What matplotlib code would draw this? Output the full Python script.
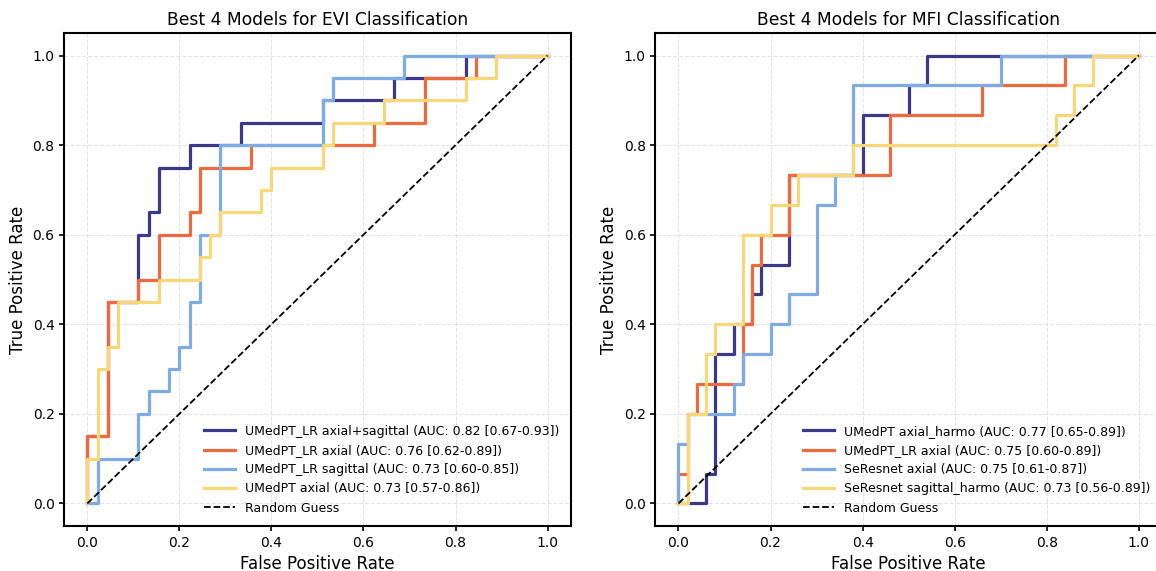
import matplotlib
matplotlib.use("Agg")
import matplotlib.pyplot as plt
import numpy as np

# colours of the four models (same order in both panels)
colors = ['#3b3889', '#ec6a3d', '#7fabe3', '#f9d776']

# EVI panel: 45 negatives, 20 positives (counts at each ROC vertex)
evi_neg = 45
evi_pos = 20
evi_labels = ['UMedPT_LR axial+sagittal (AUC: 0.82 [0.67-0.93])',
              'UMedPT_LR axial (AUC: 0.76 [0.62-0.89])',
              'UMedPT_LR sagittal (AUC: 0.73 [0.60-0.85])',
              'UMedPT axial (AUC: 0.73 [0.57-0.86])']
evi_fp = [
    [0, 0, 2, 2, 5, 5, 6, 6, 7, 7, 10, 10, 15, 15, 23, 23, 30, 30, 37, 37, 45],
    [0, 0, 2, 2, 5, 5, 7, 7, 10, 10, 11, 11, 16, 16, 28, 28, 33, 33, 38, 38, 45],
    [0, 1, 1, 5, 5, 6, 6, 8, 8, 9, 9, 10, 10, 11, 11, 13, 13, 23, 23, 24, 24, 31, 31, 45],
    [0, 0, 1, 1, 2, 2, 3, 3, 7, 7, 11, 11, 12, 12, 13, 13, 17, 17, 18, 18, 23, 23, 24, 24, 29, 29, 37, 37, 40, 40, 45],
]
evi_tp = [
    [0, 3, 3, 9, 9, 12, 12, 13, 13, 15, 15, 16, 16, 17, 17, 18, 18, 19, 19, 20, 20],
    [0, 3, 3, 9, 9, 10, 10, 12, 12, 13, 13, 15, 15, 16, 16, 17, 17, 19, 19, 20, 20],
    [0, 0, 2, 2, 4, 4, 5, 5, 6, 6, 7, 7, 9, 9, 12, 12, 16, 16, 18, 18, 19, 19, 20, 20],
    [0, 2, 2, 6, 6, 7, 7, 9, 9, 10, 10, 11, 11, 12, 12, 13, 13, 14, 14, 15, 15, 16, 16, 17, 17, 18, 18, 19, 19, 20, 20],
]

# MFI panel: 50 negatives, 15 positives
mfi_neg = 50
mfi_pos = 15
mfi_labels = ['UMedPT axial_harmo (AUC: 0.77 [0.65-0.89])',
              'UMedPT_LR axial (AUC: 0.75 [0.60-0.89])',
              'SeResnet axial (AUC: 0.75 [0.61-0.87])',
              'SeResnet sagittal_harmo (AUC: 0.73 [0.56-0.89])']
mfi_fp = [
    [0, 3, 3, 4, 4, 6, 6, 8, 8, 9, 9, 12, 12, 20, 20, 25, 25, 27, 27, 50],
    [0, 0, 1, 1, 2, 2, 7, 7, 8, 8, 9, 9, 12, 12, 23, 23, 33, 33, 42, 42, 50],
    [0, 0, 1, 1, 6, 6, 7, 7, 10, 10, 12, 12, 15, 15, 17, 17, 19, 19, 35, 35, 50],
    [0, 1, 1, 3, 3, 4, 4, 7, 7, 10, 10, 13, 13, 19, 19, 41, 41, 43, 43, 45, 45, 50],
]
mfi_tp = [
    [0, 0, 1, 1, 5, 5, 6, 6, 7, 7, 8, 8, 11, 11, 13, 13, 14, 14, 15, 15],
    [0, 1, 1, 3, 3, 4, 4, 6, 6, 8, 8, 9, 9, 11, 11, 13, 13, 14, 14, 15, 15],
    [0, 2, 2, 3, 3, 4, 4, 5, 5, 6, 6, 7, 7, 10, 10, 11, 11, 14, 14, 15, 15],
    [0, 0, 3, 3, 5, 5, 6, 6, 9, 9, 10, 10, 11, 11, 12, 12, 13, 13, 14, 14, 15, 15],
]

titles = ['Best 4 Models for EVI Classification', 'Best 4 Models for MFI Classification']
ticks = [0.0, 0.2, 0.4, 0.6, 0.8, 1.0]

fig = plt.figure(figsize=(11.56, 5.71), dpi=100)
ax1 = fig.add_axes([0.0556, 0.079, 0.438, 0.863])
ax2 = fig.add_axes([0.567, 0.079, 0.438, 0.863])

panels = [(ax1, evi_fp, evi_tp, evi_neg, evi_pos, evi_labels),
          (ax2, mfi_fp, mfi_tp, mfi_neg, mfi_pos, mfi_labels)]

for i, (ax, fps, tps, nneg, npos, labels) in enumerate(panels):
    for fp, tp, c, lab in zip(fps, tps, colors, labels):
        ax.plot(np.array(fp) / nneg, np.array(tp) / npos, color=c, lw=2.3, label=lab)
    ax.plot([0, 1], [0, 1], 'k--', lw=1.3, label='Random Guess')
    ax.set_xlim(-0.05, 1.05)
    ax.set_ylim(-0.05, 1.05)
    ax.set_xticks(ticks)
    ax.set_yticks(ticks)
    ax.tick_params(labelsize=10, width=1.2)
    ax.grid(True, linestyle='--', color='#d9d9d9', alpha=0.7)
    for s in ax.spines.values():
        s.set_linewidth(1.5)
    ax.set_title(titles[i], fontsize=12.3)
    ax.set_xlabel('False Positive Rate', fontsize=12)
    ax.set_ylabel('True Positive Rate', fontsize=12)
    ax.legend(loc='lower right', fontsize=9, frameon=False, handlelength=2.5)

fig.savefig('out.png', dpi=100)
